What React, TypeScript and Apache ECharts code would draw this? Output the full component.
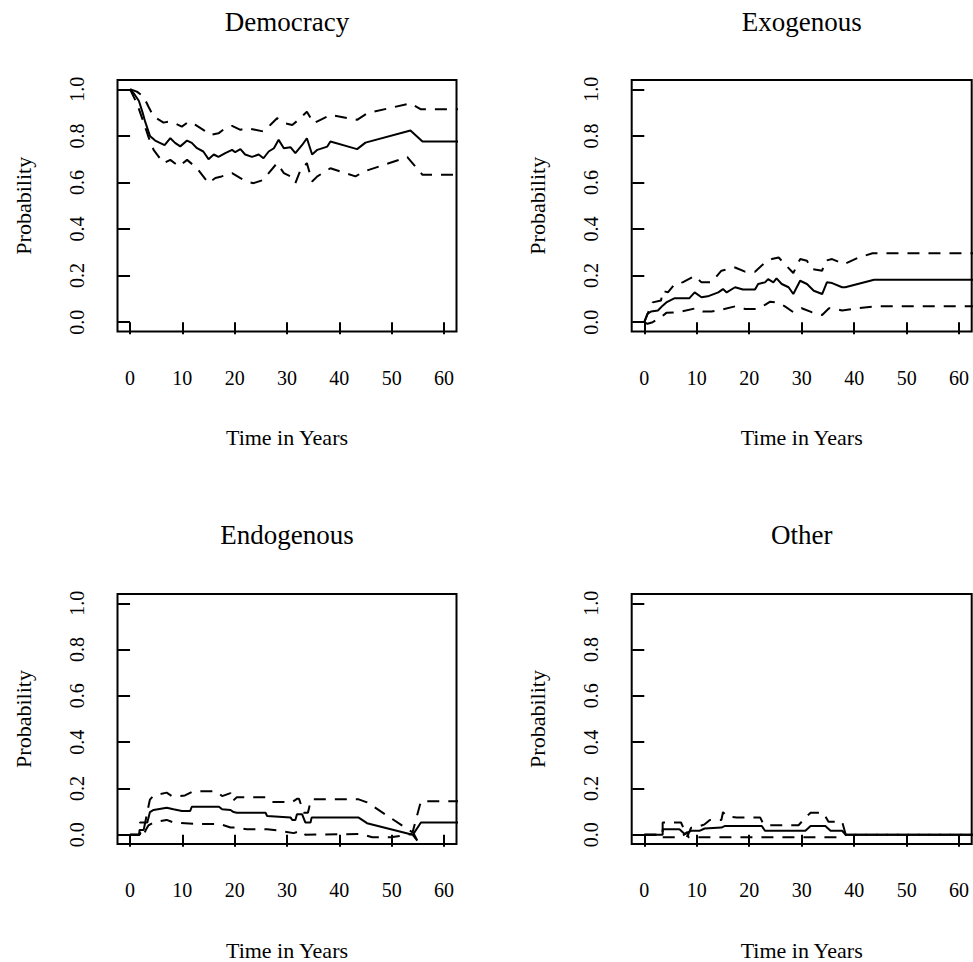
import React, { useEffect, useRef } from "react";
import * as echarts from "echarts";

const panelTitles = ["Democracy", "Exogenous", "Endogenous", "Other"];
const xTicks = [0, 10, 20, 30, 40, 50, 60];
const yTicks = [0, 0.2, 0.4, 0.6, 0.8, 1.0];
const xAxisTitle = "Time in Years";
const yAxisTitle = "Probability";

// Democracy
const demoEst = [[0,1.0],[0.8,0.98],[1.7,0.95],[2.4,0.9],[2.9,0.86],[3.8,0.8],[4.8,0.78],[5.7,0.77],[6.6,0.76],[7.7,0.79],[8.6,0.77],[9.6,0.755],[10.9,0.78],[11.8,0.77],[12.8,0.747],[14.0,0.733],[15.0,0.7],[16.0,0.72],[16.9,0.71],[18.2,0.726],[19.5,0.74],[20.1,0.73],[21.1,0.743],[22.0,0.72],[23.3,0.71],[24.6,0.72],[25.5,0.704],[26.5,0.733],[27.5,0.747],[28.4,0.783],[29.4,0.747],[30.7,0.751],[31.6,0.726],[32.9,0.761],[33.8,0.79],[34.8,0.72],[35.8,0.74],[37.7,0.754],[38.3,0.776],[43.4,0.743],[45.0,0.771],[53.6,0.823],[55.9,0.776],[65,0.776]];
const demoUpper = [[0,1.0],[1.3,0.99],[2.6,0.968],[3.5,0.926],[4.5,0.883],[6.4,0.857],[7.3,0.861],[8.6,0.854],[9.9,0.84],[11.2,0.861],[12.5,0.847],[14.0,0.826],[15.3,0.804],[16.9,0.811],[18.2,0.833],[19.5,0.843],[21.1,0.826],[22.3,0.833],[23.9,0.826],[25.5,0.819],[26.8,0.847],[28.1,0.876],[29.7,0.854],[31.0,0.847],[32.2,0.869],[33.8,0.904],[35.1,0.854],[36.4,0.869],[38.3,0.89],[43.4,0.869],[45.3,0.897],[53.6,0.94],[55.6,0.914],[65,0.914]];
const demoLower = [[0,1.0],[1.3,0.94],[2.4,0.87],[3.5,0.797],[4.5,0.74],[6.4,0.683],[7.7,0.697],[9.3,0.669],[10.9,0.697],[12.8,0.661],[15.0,0.597],[16.3,0.619],[17.5,0.626],[19.5,0.64],[21.1,0.619],[22.3,0.604],[23.6,0.597],[25.5,0.611],[26.5,0.64],[28.1,0.683],[29.4,0.64],[30.7,0.626],[31.6,0.597],[32.6,0.654],[33.8,0.683],[34.8,0.604],[35.8,0.626],[38.3,0.661],[43.1,0.626],[44.7,0.647],[53.0,0.709],[55.9,0.633],[65,0.633]];

// Exogenous
const exoEst = [[0,0],[0.6,0.036],[1.3,0.046],[2.6,0.05],[3.5,0.071],[4.2,0.085],[5.8,0.103],[8.6,0.103],[9.6,0.128],[10.9,0.107],[12.1,0.111],[14.1,0.128],[15.0,0.142],[15.7,0.128],[17.3,0.15],[18.8,0.14],[21.1,0.14],[21.7,0.164],[23.0,0.171],[23.6,0.185],[24.6,0.171],[25.2,0.188],[26.2,0.164],[27.5,0.15],[28.4,0.121],[29.7,0.178],[31.0,0.164],[32.3,0.135],[33.9,0.121],[34.8,0.171],[35.8,0.168],[37.7,0.15],[38.3,0.15],[43.8,0.182],[65,0.182]];
const exoUpper = [[0,0],[1,0.057],[1.6,0.085],[3.2,0.093],[3.5,0.135],[4.5,0.128],[5.8,0.164],[7.3,0.171],[9.6,0.199],[10.9,0.171],[12.8,0.171],[14.7,0.221],[17.3,0.235],[19.2,0.217],[21.1,0.217],[23.0,0.256],[24.3,0.271],[25.6,0.278],[26.8,0.249],[28.4,0.211],[29.7,0.271],[31.0,0.264],[31.9,0.228],[33.9,0.221],[34.5,0.264],[35.8,0.271],[38.1,0.249],[40.9,0.278],[43.5,0.296],[65,0.296]];
const exoLower = [[0,0],[0.6,-0.007],[1.6,0.0],[3.2,0.021],[4.2,0.04],[6.4,0.043],[9.9,0.06],[11.2,0.046],[12.8,0.046],[14.7,0.054],[17.3,0.068],[19.2,0.057],[21.4,0.057],[23.0,0.074],[24.0,0.088],[25.6,0.083],[26.8,0.068],[28.4,0.043],[30.0,0.06],[31.9,0.043],[33.9,0.031],[35.2,0.06],[36.5,0.057],[37.7,0.05],[40.9,0.06],[43.8,0.068],[65,0.068]];

// Endogenous
const endoEst = [[0,0],[1.8,0],[1.8,0.021],[2.6,0.021],[2.9,0.053],[3.3,0.053],[3.8,0.098],[4.5,0.107],[7.0,0.117],[8.3,0.11],[9.9,0.103],[11.5,0.103],[11.8,0.121],[17.0,0.121],[17.6,0.11],[19.2,0.107],[19.8,0.098],[20.4,0.095],[25.9,0.095],[26.2,0.081],[30.7,0.074],[31.0,0.064],[31.6,0.064],[31.9,0.088],[32.9,0.088],[33.5,0.053],[34.5,0.053],[34.7,0.074],[43.7,0.074],[45.3,0.05],[54.0,0.0],[54.9,-0.025],[54.2,0.005],[55.6,0.053],[65,0.053]];
const endoUpper = [[0,0],[1.8,0],[1.9,0.053],[2.9,0.053],[3.4,0.11],[3.8,0.152],[4.5,0.17],[7.0,0.182],[8.0,0.167],[9.6,0.167],[10.5,0.17],[12.1,0.188],[16.5,0.188],[17.6,0.167],[19.2,0.18],[19.6,0.145],[20.4,0.162],[25.9,0.162],[27.0,0.141],[31.0,0.141],[31.9,0.155],[32.3,0.155],[33.2,0.095],[34.0,0.095],[34.6,0.153],[43.7,0.153],[45.3,0.14],[54.0,0.01],[55.6,0.145],[65,0.145]];
const endoLower = [[0,0],[1.8,0],[2.2,0.017],[2.6,0.0],[3.0,0.02],[3.5,0.04],[4.5,0.053],[7.0,0.064],[8.3,0.053],[13.4,0.046],[17.2,0.046],[19.2,0.031],[20.4,0.031],[22.3,0.024],[26.2,0.024],[28.7,0.017],[31.3,0.007],[32.6,0.017],[33.5,0.0],[44.1,0.003],[46.3,-0.011],[49.8,-0.011],[54.0,0.003]];

// Other
const otherEst = [[0,0],[3.5,0],[3.5,0.024],[6.7,0.024],[7.7,0.003],[8.9,0.017],[10.5,0.017],[11.5,0.027],[14.7,0.031],[15.4,0.038],[22.4,0.038],[23.0,0.017],[30.7,0.017],[31.7,0.038],[34.5,0.038],[35.5,0.017],[37.7,0.017],[38.4,0],[65,0]];
const otherUpper = [[0,0],[3.5,0],[3.5,0.053],[7.0,0.053],[8.2,-0.008],[8.9,0.03],[10.2,0.034],[11.5,0.045],[12.5,0.064],[14.7,0.064],[15.0,0.098],[15.7,0.08],[17.6,0.074],[22.1,0.074],[22.7,0.046],[23.6,0.041],[29.4,0.041],[31.0,0.081],[31.7,0.095],[34.1,0.095],[35.1,0.056],[37.7,0.056],[38.4,0],[65,0]];
const otherLower = [[0,0],[3.5,0],[3.5,-0.011],[7.0,-0.011],[8.2,0.012],[8.4,-0.011],[37.7,-0.011],[38.4,0],[65,0]];

const panelData = [
  [demoEst, demoUpper, demoLower],
  [exoEst, exoUpper, exoLower],
  [endoEst, endoUpper, endoLower],
  [otherEst, otherUpper, otherLower],
];

const FONT = "Liberation Serif";

export default function App() {
  const ref = useRef<HTMLDivElement>(null);
  useEffect(() => {
    if (!ref.current) return;
    const chart = echarts.init(ref.current, null, { renderer: "svg" });
    const grids = [
      { left: 117.5, top: 80, width: 339, height: 251.5 },
      { left: 631.7, top: 80, width: 340, height: 251.5 },
      { left: 117.5, top: 594, width: 339, height: 252.7 },
      { left: 631.7, top: 594, width: 340, height: 252.7 },
    ];
    const grid = grids.map((g) => ({
      ...g,
      show: true,
      borderColor: "#000",
      borderWidth: 2,
      backgroundColor: "transparent",
      containLabel: false,
    }));
    const xAxis = grids.map((_, i) => ({
      type: "value",
      gridIndex: i,
      min: -2.4,
      max: 62.4,
      offset: 4,
      axisLine: { show: false },
      axisTick: { show: true, length: 12, customValues: xTicks, lineStyle: { color: "#000", width: 2 } },
      axisLabel: { show: true, customValues: xTicks, margin: 32, fontSize: 20, fontFamily: FONT, color: "#000", formatter: (v: number) => String(v) },
      splitLine: { show: false },
      name: xAxisTitle,
      nameLocation: "middle",
      nameGap: 91,
      nameTextStyle: { fontSize: 22, fontFamily: FONT, color: "#000" },
    }));
    const yAxis = grids.map((_, i) => ({
      type: "value",
      gridIndex: i,
      min: -0.04,
      max: 1.04,
      offset: 3,
      axisLine: { show: false },
      axisTick: { show: true, length: 12, customValues: yTicks, lineStyle: { color: "#000", width: 2 } },
      axisLabel: { show: true, customValues: yTicks, rotate: 90, margin: 28, fontSize: 20, fontFamily: FONT, color: "#000", formatter: (v: number) => v.toFixed(1) },
      splitLine: { show: false },
      name: yAxisTitle,
      nameLocation: "middle",
      nameGap: 80,
      nameTextStyle: { fontSize: 22, fontFamily: FONT, color: "#000" },
    }));
    const centers = grids.map((g) => g.left + g.width / 2);
    const title = panelTitles.map((t, i) => ({
      text: t,
      left: centers[i],
      top: i < 2 ? 8 : 521,
      textAlign: "center",
      padding: 0,
      textStyle: { fontSize: 27, fontWeight: "normal", fontFamily: FONT, color: "#000" },
    }));
    const series: any[] = [];
    panelData.forEach((sets, i) => {
      sets.forEach((d, j) => {
        series.push({
          type: "line",
          xAxisIndex: i,
          yAxisIndex: i,
          data: d,
          symbol: "none",
          clip: true,
          silent: true,
          lineStyle: { color: "#000", width: 2, type: j === 0 ? "solid" : [12, 9] },
        });
      });
    });
    chart.setOption({
      animation: false,
      backgroundColor: "#fff",
      title,
      grid,
      xAxis,
      yAxis,
      series,
    });
    return () => chart.dispose();
  }, []);
  return (
    <div
      ref={ref}
      style={{ position: "absolute", left: 0, top: 0, width: 973, height: 962 }}
    />
  );
}
